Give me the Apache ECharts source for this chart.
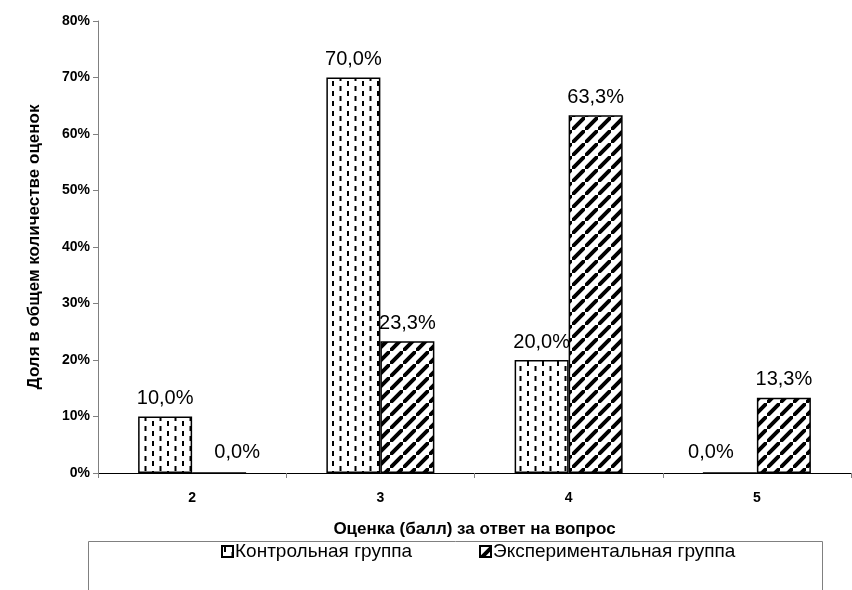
<!DOCTYPE html>
<html>
<head>
<meta charset="utf-8">
<script src="https://cdn.jsdelivr.net/npm/echarts@6/dist/echarts.min.js"></script>
<style>
html,body{margin:0;padding:0;background:#fff;}
#chart{width:852px;height:590px;}
</style>
</head>
<body>
<div id="chart"></div>
<script>
var categories = ['2', '3', '4', '5'];
var seriesNames = ['Контрольная группа', 'Экспериментальная группа'];
var controlValues = [10.0, 70.0, 20.0, 0.0];
var experimentValues = [0.0, 23.3, 63.3, 13.3];
var yTicks = [0, 10, 20, 30, 40, 50, 60, 70, 80];
var yAxisTitle = 'Доля в общем количестве оценок';
var xAxisTitle = 'Оценка (балл) за ответ на вопрос';

function dashPattern() {
  var c = document.createElement('canvas');
  c.width = 15; c.height = 10;
  var g = c.getContext('2d');
  g.fillStyle = '#fff'; g.fillRect(0, 0, 15, 10);
  g.fillStyle = '#000';
  g.fillRect(2, 1, 2, 5);
  g.fillRect(9.5, 6, 2, 5);
  g.fillRect(9.5, -4, 2, 5);
  return c;
}
function stripePattern() {
  var s = 13;
  var c = document.createElement('canvas');
  c.width = s; c.height = s;
  var g = c.getContext('2d');
  g.fillStyle = '#fff'; g.fillRect(0, 0, s, s);
  g.strokeStyle = '#000'; g.lineWidth = 4;
  g.beginPath();
  g.moveTo(-2, s + 2); g.lineTo(s + 2, -2);
  g.moveTo(-2 - s, s + 2 - s); g.lineTo(s + 2 - s, -2 - s);
  g.moveTo(-2 + s, s + 2 + s); g.lineTo(s + 2 + s, -2 + s);
  g.stroke();
  return c;
}

function fmt(v) { return v.toFixed(1).replace('.', ',') + '%'; }

function buildData(values, zeroShift) {
  return values.map(function (v) {
    var item = { value: v };
    if (v === 0) item.label = { offset: [zeroShift, -2] };
    return item;
  });
}

var chart = echarts.init(document.getElementById('chart'), null, { renderer: 'canvas' });

var labelCfg = {
  show: true, position: 'top', distance: 8,
  fontFamily: 'Liberation Sans', fontSize: 20, color: '#000',
  formatter: function (p) { return fmt(p.value); }
};

var legendText = { fontFamily: 'Liberation Sans', fontSize: 19, color: '#000', padding: [0, 0, 0, -3] };

var option = {
  backgroundColor: '#fff',
  animation: false,
  grid: { left: 98, right: 1, top: 21, bottom: 117, containLabel: false },
  legend: [
    { data: [seriesNames[0]], left: 216, top: 537, icon: 'rect', itemWidth: 11, itemHeight: 11, itemGap: 0, textStyle: legendText },
    { data: [seriesNames[1]], left: 474, top: 537, icon: 'rect', itemWidth: 11, itemHeight: 11, itemGap: 0, textStyle: legendText }
  ],
  xAxis: {
    type: 'category', data: categories,
    name: xAxisTitle, nameLocation: 'middle', nameGap: 48,
    nameTextStyle: { fontFamily: 'Liberation Sans', fontWeight: 'bold', fontSize: 17, color: '#000' },
    axisLine: { lineStyle: { color: '#000', width: 1 } },
    axisTick: { show: true, length: 5, lineStyle: { color: '#808080' } },
    axisLabel: { fontFamily: 'Liberation Sans', fontWeight: 'bold', fontSize: 14, color: '#000', margin: 18 },
    splitLine: { show: false }
  },
  yAxis: {
    type: 'value', min: yTicks[0], max: yTicks[yTicks.length - 1], interval: 10,
    name: yAxisTitle, nameLocation: 'middle', nameGap: 55, nameRotate: 90,
    nameTextStyle: { fontFamily: 'Liberation Sans', fontWeight: 'bold', fontSize: 17, color: '#000' },
    axisLine: { show: true, lineStyle: { color: '#808080', width: 1 } },
    axisTick: { show: true, length: 5, lineStyle: { color: '#808080' } },
    axisLabel: { fontFamily: 'Liberation Sans', fontWeight: 'bold', fontSize: 14, color: '#000', margin: 8,
      formatter: function (v) { return v + '%'; } },
    splitLine: { show: false }
  },
  series: [
    {
      name: seriesNames[0], type: 'bar', barWidth: 54, barGap: '0%',
      data: buildData(controlValues, -19),
      itemStyle: { color: { image: dashPattern(), repeat: 'repeat' }, borderColor: '#000', borderWidth: 1.5 },
      label: labelCfg
    },
    {
      name: seriesNames[1], type: 'bar', barWidth: 54, barGap: '0%',
      data: buildData(experimentValues, 18),
      itemStyle: { color: { image: stripePattern(), repeat: 'repeat' }, borderColor: '#000', borderWidth: 1.5 },
      label: labelCfg
    }
  ],
  graphic: [
    { type: 'rect', shape: { x: 88.5, y: 541.5, width: 734, height: 80 }, style: { fill: 'none', stroke: '#808080', lineWidth: 1 }, z: -1 }
  ]
};
chart.setOption(option);
</script>
</body>
</html>
